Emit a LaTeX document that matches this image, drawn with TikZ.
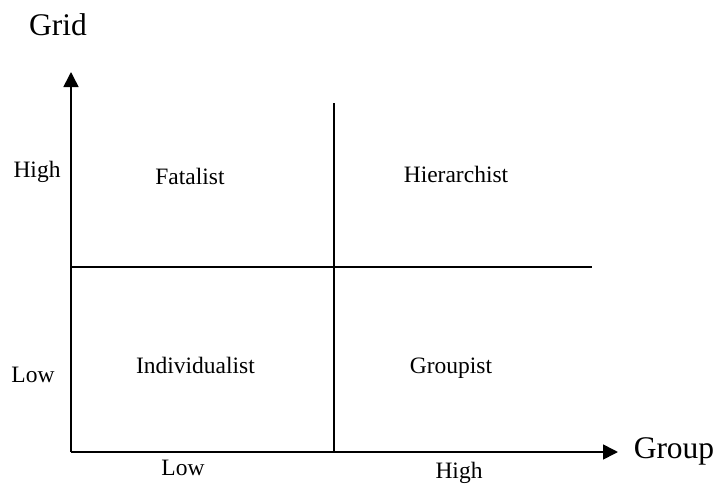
\documentclass[tikz,border=0pt]{standalone}
\usepackage{fontspec}
\setmainfont{Liberation Serif}
\usetikzlibrary{arrows.meta}
\begin{document}
\begin{tikzpicture}[x=1pt,y=-1pt,
  axisline/.style={line width=1.6pt,line cap=butt},
  lbl/.style={anchor=base,inner sep=0pt,font=\fontsize{23.5}{28}\selectfont},
  biglbl/.style={anchor=base,inner sep=0pt,font=\fontsize{31.5}{36}\selectfont}]
\useasboundingbox (0,0) rectangle (716,485);
\coordinate (o) at (71,452);
\coordinate (ytip) at (71,72);
\coordinate (xtip) at (618,452);
\coordinate (vtop) at (334,103);
\coordinate (vbot) at (334,452);
\coordinate (hl) at (71,267);
\coordinate (hr) at (592,267);
\draw[axisline,-{Triangle[length=15pt,width=15pt]}] (o) -- (ytip);
\draw[axisline,-{Triangle[length=15pt,width=15pt]}] (o) -- (xtip);
\draw[axisline] (vtop) -- (vbot);
\draw[axisline] (hl) -- (hr);
\node[biglbl] (grid) at (58,35) {Grid};
\node[biglbl] (group) at (674,458) {Group};
\node[lbl] (yhigh) at (37,177) {High};
\node[lbl] (ylow) at (33,382) {Low};
\node[lbl] (xlow) at (183,475) {Low};
\node[lbl] (xhigh) at (459,478) {High};
\node[lbl] (fat) at (190,184) {Fatalist};
\node[lbl] (hier) at (456,182) {Hierarchist};
\node[lbl] (ind) at (195.5,373) {Individualist};
\node[lbl] (grp) at (451,373) {Groupist};
\end{tikzpicture}
\end{document}
